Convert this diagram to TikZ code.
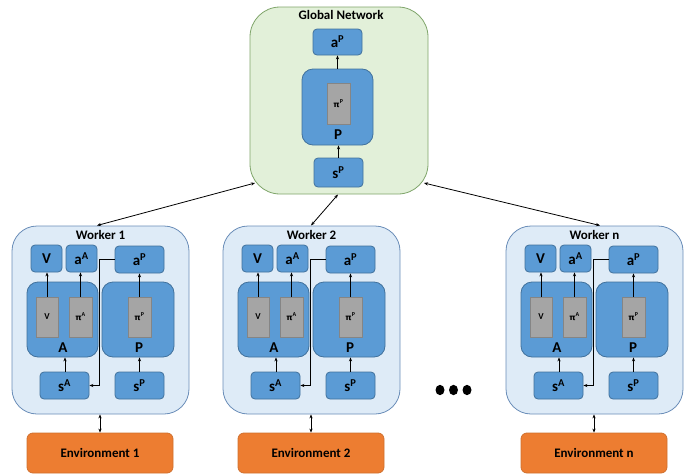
\documentclass[tikz,border=0pt]{standalone}
\usepackage{fontspec}
\setmainfont{Carlito}
\newfontfamily\gk{DejaVu Sans}
\usetikzlibrary{arrows.meta}
\definecolor{blueF}{HTML}{5B9BD5}
\definecolor{blueD}{HTML}{41719C}
\definecolor{grayF}{HTML}{A5A5A5}
\definecolor{grayD}{HTML}{858585}
\definecolor{wkF}{HTML}{DEEBF7}
\definecolor{wkD}{HTML}{6A8DB8}
\definecolor{glF}{HTML}{E2F0D9}
\definecolor{glD}{HTML}{7FA56A}
\definecolor{envF}{HTML}{ED7D31}
\definecolor{envD}{HTML}{D0702E}
\newcommand\pis[1]{{\gk\fontsize{8}{8}\selectfont π}\textsuperscript{#1}}
\tikzset{
  box/.style={draw, line width=0.8pt, inner sep=0pt},
  bluebox/.style={box, fill=blueF, draw=blueD, rounded corners=4pt, font=\fontsize{15}{15}\selectfont\bfseries},
  bigblue/.style={box, fill=blueF, draw=blueD, rounded corners=11pt},
  graybox/.style={box, fill=grayF, draw=grayD, font=\fontsize{9}{9}\selectfont\bfseries},
  workerbox/.style={box, fill=wkF, draw=wkD, rounded corners=25pt},
  globalbox/.style={box, fill=glF, draw=glD, rounded corners=30pt},
  envbox/.style={box, fill=envF, draw=envD, rounded corners=6pt, font=\fontsize{13}{13}\selectfont\bfseries},
  title/.style={font=\fontsize{13}{13}\selectfont\bfseries, inner sep=0pt},
  letter/.style={font=\fontsize{15}{15}\selectfont\bfseries, inner sep=0pt},
  arr/.style={-{Stealth[length=4pt,width=3.2pt]}, line width=0.8pt},
  darr/.style={{Stealth[length=4pt,width=3.2pt]}-{Stealth[length=4pt,width=3.2pt]}, line width=0.8pt},
}
\newcommand\wkr[4]{% #1 offset, #2 suffix, #3 worker label, #4 env label
\begin{scope}[xshift=#1pt]
  \node[workerbox, minimum width=177pt, minimum height=188pt] (w#2) at (100.5,320) {};
  \node[title] (wt#2) at (100.5,235) {#3};
  \node[bluebox, minimum width=31pt, minimum height=27pt] (V#2) at (46.5,258.5) {V};
  \node[bluebox, minimum width=31pt, minimum height=27pt] (aA#2) at (81.5,258.5) {a\textsuperscript{A}};
  \node[bluebox, minimum width=49pt, minimum height=27pt] (aP#2) at (139.5,259.5) {a\textsuperscript{P}};
  \node[bigblue, minimum width=71pt, minimum height=75pt] (A#2) at (62.5,319.5) {};
  \node[bigblue, minimum width=72pt, minimum height=75pt] (P#2) at (138,319.5) {};
  \node[graybox, minimum width=22pt, minimum height=40pt] (Vg#2) at (47,317) {V};
  \node[graybox, minimum width=23pt, minimum height=40pt] (piA#2) at (80.5,317) {\pis{A}};
  \node[graybox, minimum width=23pt, minimum height=40pt] (piP#2) at (139.5,317) {\pis{P}};
  \node[letter] (Al#2) at (63,348) {A};
  \node[letter] (Pl#2) at (139,348) {P};
  \node[bluebox, minimum width=49pt, minimum height=27pt] (sA#2) at (64.5,385.5) {s\textsuperscript{A}};
  \node[bluebox, minimum width=49pt, minimum height=27pt] (sP#2) at (139.5,385.5) {s\textsuperscript{P}};
  \node[envbox, minimum width=146pt, minimum height=40pt] (e#2) at (100,453) {#4};
  \draw[arr] (Vg#2.north) -- (Vg#2.north |- V#2.south);
  \draw[arr] (piA#2.north) -- (piA#2.north |- aA#2.south);
  \draw[arr] (piP#2.north) -- (piP#2.north |- aP#2.south);
  \draw[arr] ([xshift=0.5pt]sA#2.north) -- ([xshift=0.5pt]sA#2.north |- A#2.south);
  \draw[arr] (sP#2.north) -- (sP#2.north |- P#2.south);
  \draw[arr] (aP#2.west) -- ++(-15,0) |- (sA#2.east);
  \draw[darr] ([xshift=-0.5pt]w#2.south) -- ([xshift=-0.5pt]w#2.south |- e#2.north);
\end{scope}}
\begin{document}
\begin{tikzpicture}[x=1pt,y=-1pt]
\useasboundingbox (0,0) rectangle (697,474);
% global network
\node[globalbox, minimum width=178pt, minimum height=187pt] (g) at (339,100.5) {};
\node[title] (gt) at (341,15) {Global Network};
\node[bluebox, minimum width=49pt, minimum height=26pt] (gaP) at (337.5,42) {a\textsuperscript{P}};
\node[bigblue, minimum width=71pt, minimum height=76pt] (gP) at (337.5,107) {};
\node[graybox, minimum width=23pt, minimum height=41pt] (gpiP) at (338.5,103.5) {\pis{P}};
\node[letter] (gPl) at (338,135) {P};
\node[bluebox, minimum width=49pt, minimum height=29pt] (gsP) at (338.5,172.5) {s\textsuperscript{P}};
\draw[arr] (gP.north) -- (gP.north |- gaP.south);
\draw[arr] (gsP.north) -- (gsP.north |- gP.south);
% workers
\wkr{0}{1}{Worker 1}{Environment 1}
\wkr{211}{2}{Worker 2}{Environment 2}
\wkr{494}{n}{Worker n}{Environment n}
% connectors global <-> workers
\coordinate (c1a) at (255,183);
\coordinate (c1b) at (97,225.5);
\coordinate (c2a) at (338,194.5);
\coordinate (c2b) at (311,225.5);
\coordinate (c3a) at (424,183);
\coordinate (c3b) at (600,225.5);
\draw[darr] (c1a) -- (c1b);
\draw[darr] (c2a) -- (c2b);
\draw[darr] (c3a) -- (c3b);
% dots
\fill (440,390) ellipse [x radius=4.5pt, y radius=5.2pt];
\fill (453.5,390) ellipse [x radius=4.5pt, y radius=5.2pt];
\fill (467,390) ellipse [x radius=4.5pt, y radius=5.2pt];
\end{tikzpicture}
\end{document}
